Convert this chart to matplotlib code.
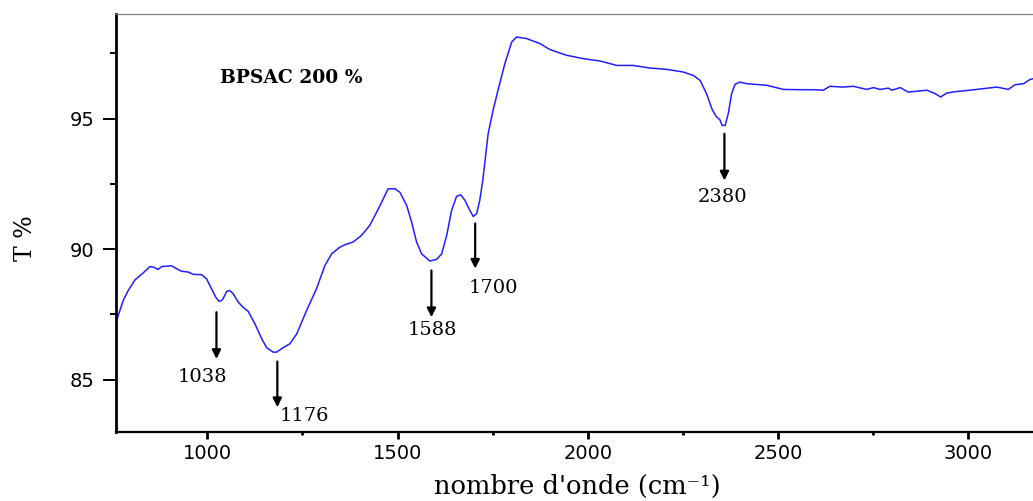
import matplotlib
matplotlib.use("Agg")
import matplotlib.pyplot as plt
from matplotlib.ticker import MultipleLocator

# FTIR spectrum of BPSAC 200 % : wavenumber (cm-1) vs transmittance (%)
wavenumber = [
    760, 779, 792, 810, 831, 849, 858, 871, 880, 906, 919, 932, 950, 963, 985,
    998, 1011, 1022, 1031, 1040, 1051, 1059, 1068, 1081, 1094, 1107, 1125,
    1143, 1156, 1173, 1182, 1199, 1217, 1235, 1261, 1287, 1309, 1327, 1348,
    1362, 1383, 1405, 1427, 1454, 1475, 1493, 1506, 1524, 1537, 1550, 1563,
    1585, 1603, 1616, 1629, 1642, 1655, 1666, 1677, 1690, 1699, 1708, 1716,
    1724, 1730, 1738, 1751, 1764, 1782, 1800, 1813, 1839, 1874, 1900, 1944,
    1988, 2032, 2076, 2119, 2163, 2207, 2250, 2277, 2295, 2312, 2326, 2337,
    2347, 2353, 2361, 2369, 2378, 2387, 2400, 2418, 2470, 2514, 2558, 2593,
    2619, 2636, 2671, 2698, 2733, 2751, 2768, 2790, 2799, 2821, 2842, 2864,
    2891, 2913, 2927, 2943, 2969, 3004, 3039, 3075, 3105, 3123, 3145, 3162,
    3175,
]
transmittance = [
    87.20, 88.03, 88.41, 88.82, 89.08, 89.33, 89.31, 89.22, 89.33, 89.36,
    89.25, 89.15, 89.12, 89.03, 89.02, 88.86, 88.48, 88.16, 87.99, 88.06,
    88.38, 88.41, 88.29, 87.97, 87.77, 87.62, 87.14, 86.56, 86.22, 86.05,
    86.05, 86.22, 86.37, 86.75, 87.65, 88.48, 89.37, 89.82, 90.07, 90.17,
    90.27, 90.52, 90.91, 91.67, 92.31, 92.31, 92.18, 91.67, 91.03, 90.27,
    89.82, 89.54, 89.61, 89.82, 90.52, 91.48, 92.02, 92.08, 91.87, 91.48,
    91.25, 91.36, 91.87, 92.63, 93.40, 94.42, 95.32, 96.09, 97.11, 97.94,
    98.13, 98.07, 97.88, 97.65, 97.43, 97.30, 97.21, 97.04, 97.04, 96.94,
    96.89, 96.79, 96.66, 96.47, 95.96, 95.38, 95.09, 94.96, 94.74, 94.74,
    95.19, 95.96, 96.32, 96.40, 96.34, 96.28, 96.12, 96.11, 96.11, 96.09,
    96.24, 96.21, 96.24, 96.12, 96.19, 96.12, 96.17, 96.09, 96.19, 96.02,
    96.05, 96.09, 95.96, 95.83, 95.98, 96.04, 96.09, 96.15, 96.21, 96.12,
    96.30, 96.34, 96.50, 96.55,
]

# Band labels, arrow positions (x, arrow top, arrow tip) and label positions
band_labels = ["1038", "1176", "1588", "1700", "2380"]
arrow_x = [1024, 1184, 1589, 1704, 2359]
arrow_top = [87.58, 85.69, 89.18, 90.98, 94.42]
arrow_tip = [85.79, 83.94, 87.39, 89.25, 92.63]
label_x = [988, 1256, 1592, 1753, 2354]
label_y = [85.08, 83.59, 86.88, 88.50, 91.99]

x_ticks = [1000, 1500, 2000, 2500, 3000]
y_ticks = [85, 90, 95]

fig = plt.figure(figsize=(10.33, 5.01), dpi=100)
ax = fig.add_axes([116 / 1033, 1 - 431.7 / 501, 1 - 116 / 1033, (431.7 - 14.3) / 501])

ax.plot(wavenumber, transmittance, color="#1f1fff", lw=1.1)

ax.set_xlim(760, 3170)
ax.set_ylim(83, 99)

ax.set_xticks(x_ticks)
ax.set_yticks(y_ticks)
ax.xaxis.set_minor_locator(MultipleLocator(250))
ax.yaxis.set_minor_locator(MultipleLocator(2.5))

ax.spines["right"].set_visible(False)
ax.spines["top"].set_color("#808080")
ax.spines["top"].set_linewidth(0.9)
ax.spines["left"].set_linewidth(2.0)
ax.spines["bottom"].set_linewidth(1.6)

ax.tick_params(axis="y", which="major", direction="out", length=9.4, width=1.4,
               pad=6, labelsize=14)
ax.tick_params(axis="y", which="minor", direction="out", length=4.5, width=1.4)
ax.tick_params(axis="x", which="major", direction="out", length=5, width=2.0,
               pad=4, labelsize=14)
ax.tick_params(axis="x", which="minor", direction="out", length=2.5, width=2.0)
for lab in ax.get_xticklabels() + ax.get_yticklabels():
    lab.set_fontfamily("DejaVu Sans")

for txt, xa, yt, yb, lx, ly in zip(band_labels, arrow_x, arrow_top, arrow_tip,
                                   label_x, label_y):
    ax.annotate("", xy=(xa, yb), xytext=(xa, yt),
                arrowprops=dict(arrowstyle="-|>", color="black", lw=1.6,
                                mutation_scale=13, shrinkA=0, shrinkB=0))
    ax.text(lx, ly, txt, ha="center", va="center", fontsize=14,
            family="DejaVu Serif")

ax.text(1033, 96.55, "BPSAC 200 %", ha="left", va="center", fontsize=13.5,
        fontweight="bold", family="DejaVu Serif")

fig.text(25 / 1033, 1 - 238 / 501, "T %", rotation=90, ha="center", va="center",
         fontsize=17, family="DejaVu Serif")
fig.text(577.5 / 1033, 1 - 494 / 501, "nombre d'onde (cm\u207b\u00b9)",
         ha="center", va="baseline", fontsize=18.5, family="DejaVu Serif")

fig.savefig("out.png", dpi=100)
